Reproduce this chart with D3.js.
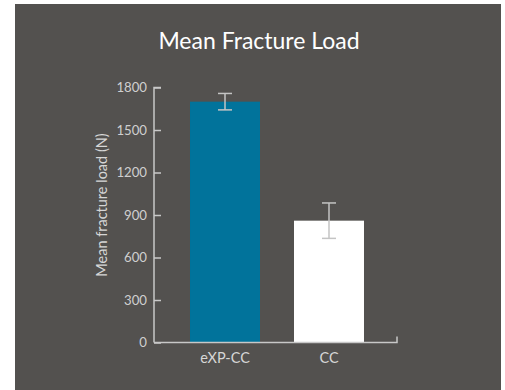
<!DOCTYPE html>
<html>
<head>
<meta charset="utf-8">
<script src="https://cdn.jsdelivr.net/npm/d3@7"></script>
<style>
  html, body { margin: 0; padding: 0; background: #ffffff; }
  svg { display: block; }
</style>
</head>
<body>
<svg id="chart" width="505" height="390"></svg>
<script>
const categories = ["eXP-CC", "CC"];
const meanLoad = [1700, 860];
const errorLoad = [58, 125];
const barColors = ["#01739b", "#ffffff"];
const yTicks = [0, 300, 600, 900, 1200, 1500, 1800];
const title = "Mean Fracture Load";
const yLabel = "Mean fracture load (N)";

const svg = d3.select("#chart");
const font = "Lato, 'Open Sans', sans-serif";

svg.append("rect").attr("x", 15).attr("y", 4).attr("width", 486).attr("height", 386).attr("fill", "#53514f");

const y = d3.scaleLinear().domain([0, 1800]).range([342.5, 87.5]);
const x = d3.scaleBand().domain(categories).range([156, 398]).paddingInner(0.327).paddingOuter(0.327);

svg.append("text").attr("x", 259).attr("y", 49).attr("text-anchor", "middle")
  .attr("fill", "#ffffff").attr("font-family", font).attr("font-size", 23).text(title);

// bars
svg.selectAll("rect.bar").data(categories).join("rect").attr("class", "bar")
  .attr("x", d => x(d)).attr("width", x.bandwidth())
  .attr("y", (d, i) => y(meanLoad[i])).attr("height", (d, i) => y(0) - y(meanLoad[i]))
  .attr("fill", (d, i) => barColors[i]);

// error bars
const eg = svg.append("g").attr("stroke", "#c4c4c4").attr("stroke-width", 1.5).attr("fill", "none");
categories.forEach((c, i) => {
  const cx = x(c) + x.bandwidth() / 2;
  const top = y(meanLoad[i] + errorLoad[i]);
  const bot = y(meanLoad[i] - errorLoad[i]);
  eg.append("line").attr("x1", cx).attr("x2", cx).attr("y1", top).attr("y2", bot);
  eg.append("line").attr("x1", cx - 7).attr("x2", cx + 7).attr("y1", top).attr("y2", top);
  eg.append("line").attr("x1", cx - 7).attr("x2", cx + 7).attr("y1", bot).attr("y2", bot);
});

// y axis
const yAxis = d3.axisRight(y).tickValues(yTicks).tickSize(7).tickFormat(d3.format("d"));
const ga = svg.append("g").attr("transform", "translate(154,0)").call(yAxis);
ga.select(".domain").attr("stroke", "#c8c8c8").attr("stroke-width", 1.5).attr("d", `M7,${y(1800)}H0V${y(0)}`);
ga.selectAll(".tick line").attr("stroke", "#c8c8c8").attr("stroke-width", 1.5);
ga.selectAll(".tick text").attr("x", -7).attr("text-anchor", "end")
  .attr("fill", "#cfcfcf").attr("font-family", font).attr("font-size", 13.2);

// x axis
const xAxis = d3.axisBottom(x).tickSize(0).tickPadding(10);
const gx = svg.append("g").attr("transform", `translate(0,${y(0)})`).call(xAxis);
gx.select(".domain").attr("stroke", "#c8c8c8").attr("stroke-width", 1.5)
  .attr("d", `M154,0H397V-6`);
gx.selectAll(".tick text").attr("fill", "#d6d6d6").attr("font-family", font).attr("font-size", 14.5);

svg.append("text").attr("transform", `translate(106.5,205) rotate(-90)`).attr("text-anchor", "middle")
  .attr("fill", "#d6d6d6").attr("font-family", font).attr("font-size", 14.5).text(yLabel);
</script>
</body>
</html>
